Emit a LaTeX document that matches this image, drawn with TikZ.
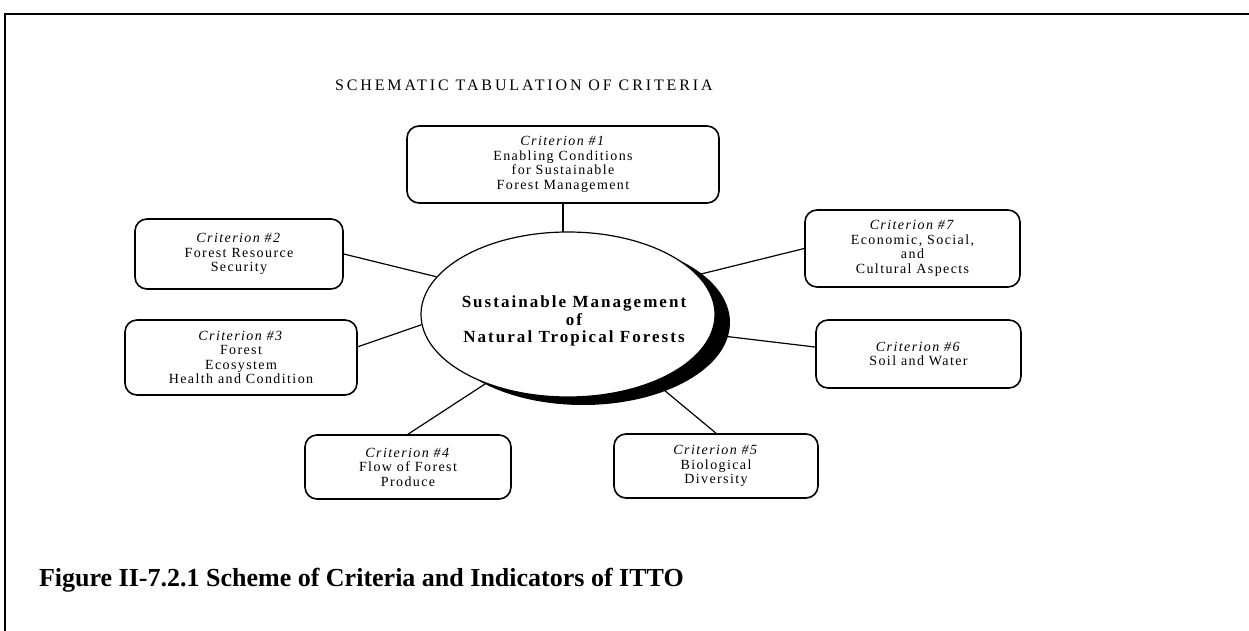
\documentclass[tikz,border=0pt]{standalone}
\usepackage{fontspec}
\setmainfont{Liberation Serif}
\newfontfamily\boxfont[LetterSpace=10]{Liberation Serif}
\newfontfamily\midfont[LetterSpace=12]{Liberation Serif}
\newfontfamily\titlefont[LetterSpace=18]{Liberation Serif}
\usetikzlibrary{shapes.geometric,shadows,backgrounds,calc}
\begin{document}
\begin{tikzpicture}[x=0.5pt,y=-0.5pt,
  crit/.style={draw, line width=0.8pt, rounded corners=6pt, align=center, inner sep=0pt,
    font=\boxfont\fontsize{7}{7.25}\selectfont},
  link/.style={line width=0.6pt},
  frameline/.style={line width=1pt}]
\useasboundingbox (0,0) rectangle (1249,631);
\draw[frameline] (1249,14) -- (5,14) -- (5,631);

\node[anchor=west, font=\titlefont\fontsize{8}{10}\selectfont] (title) at (328,85) {SCHEMATIC TABULATION OF CRITERIA};

\node[ellipse, draw, fill=white, line width=0.6pt, minimum width=147pt, minimum height=82.5pt, inner sep=0pt,
  drop shadow={shadow xshift=7.5pt, shadow yshift=-4pt, opacity=1, fill=black}] (E) at (568,314.5) {};
\node[align=center, inner sep=0pt, font=\midfont\bfseries\fontsize{8.5}{8.75}\selectfont] (Etext) at (574,321)
  {Sustainable Management\\of\\Natural Tropical Forests};

\node[crit, minimum width=156pt, minimum height=38.5pt] (b1) at (563,164.5)
  {\textit{Criterion \#1}\\Enabling Conditions\\for Sustainable\\Forest Management};
\node[crit, minimum width=104pt, minimum height=35pt] (b2) at (239,254)
  {\textit{Criterion \#2}\\Forest Resource\\Security};
\node[crit, minimum width=116pt, minimum height=37.5pt] (b3) at (241,357.5)
  {\textit{Criterion \#3}\\Forest\\Ecosystem\\Health and Condition};
\node[crit, minimum width=103pt, minimum height=32pt] (b4) at (408,467)
  {\textit{Criterion \#4}\\Flow of Forest\\Produce};
\node[crit, minimum width=102pt, minimum height=32pt] (b5) at (716,466)
  {\textit{Criterion \#5}\\Biological\\Diversity};
\node[crit, minimum width=102.5pt, minimum height=34pt] (b6) at (918.5,354)
  {\textit{Criterion \#6}\\Soil and Water};
\node[crit, minimum width=107.5pt, minimum height=38.5pt] (b7) at (912.5,248.5)
  {\textit{Criterion \#7}\\Economic, Social,\\and\\Cultural Aspects};

\begin{scope}[on background layer]
\draw[link] (b1.south) -- (b1.south |- E.center);
\draw[link] (b2.east) -- (E.164);
\draw[link] ($(b3.north east)!0.36!(b3.south east)$) -- (E.184);
\draw[link] (b4.north) -- (E.220);
\draw[link] (b5.north) -- (E.322);
\draw[link] ($(b6.north west)!0.4!(b6.south west)$) -- (E.352);
\draw[link] (b7.west) -- (E.17);
\end{scope}

\node[anchor=base west, font=\bfseries\fontsize{13}{15}\selectfont] (cap) at (32,586)
  {Figure II-7.2.1 Scheme of Criteria and Indicators of ITTO};
\end{tikzpicture}
\end{document}
